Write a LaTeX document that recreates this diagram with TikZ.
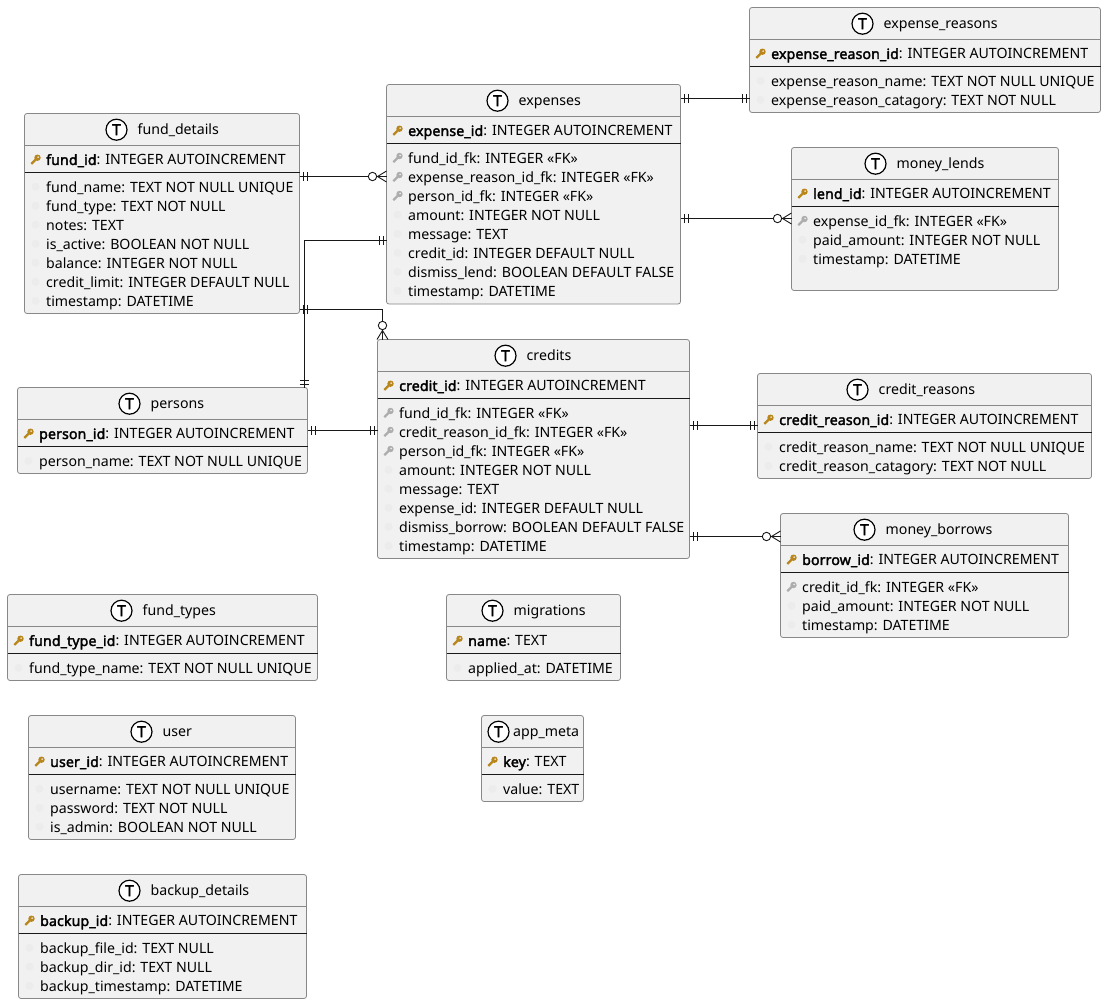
\documentclass[tikz,border=0pt]{standalone}
\usepackage{fontspec}
\setmainfont{Noto Sans}[BoldFont={Noto Sans},BoldFeatures={FakeBold=2.2,LetterSpace=0.8}]
\usetikzlibrary{calc,decorations.markings}
\definecolor{boxfill}{HTML}{F1F1F1}
\definecolor{boxline}{HTML}{888888}
\definecolor{linkline}{HTML}{181818}
\definecolor{pkcolor}{HTML}{B8861B}
\definecolor{fkcolor}{HTML}{ADADAD}
\definecolor{nocolor}{HTML}{ECECEC}

% #1 name, #2 left, #3 top, #4 width, #5 height, #6 offset of the T, #7 title, #8 key row, #9 rows
\newcommand{\tablebox}[9]{
  \node[table node,minimum width=#4,minimum height=#5] (#1) at (#2,#3) {};
  \draw[line width=0.8pt,boxline] ($(#1.north west)+(0,32)$) -- ($(#1.north east)+(0,32)$);
  \draw[line width=0.9pt,linkline] ($(#1.north west)+(0,59)$) -- ($(#1.north east)+(0,59)$);
  \node[t node] (#1 t) at ($(#1.north west)+(#6,16.2)$) {T};
  \node[row node] (#1 title) at ($(#1 t.center)+(21,0.8)$) {#7};
  \pic at ($(#1.north west)+(11,46)$) {pk};
  \node[row node] (#1 key) at ($(#1.north west)+(21.5,47.7)$) {#8};
  \foreach \kind/\txt [count=\i from 0] in {#9} {
    \pic at ($(#1.north west)+(11,73.3+19*\i)$) {\kind};
    \node[row node] (#1 row\i) at ($(#1.north west)+(21.5,75.2+19*\i)$) {\txt};
  }
}

\begin{document}
\begin{tikzpicture}[x=1pt,y=-1pt,
table node/.style={rectangle,draw=boxline,fill=boxfill,line width=0.8pt,rounded corners=2.5pt,anchor=north west,inner sep=0pt,outer sep=0pt},
row node/.style={anchor=west,inner sep=0pt,font=\fontsize{14.15}{16}\selectfont,text height=10.5pt,text depth=3pt,text=black},
t node/.style={circle,draw=black,fill=white,line width=1.2pt,minimum size=21pt,inner sep=0pt,font=\fontsize{15.5}{15}\selectfont\bfseries},
pk/.pic={
  \fill[pkcolor] (2,-1.8) circle (3.2pt);
  \draw[pkcolor,line width=2.2pt] (1,-0.8) -- (-4.2,4.4);
  \fill[boxfill] (2.6,-2.4) circle (0.9pt);
},
fk/.pic={
  \fill[fkcolor] (2,-1.8) circle (3.2pt);
  \draw[fkcolor,line width=2.2pt] (1,-0.8) -- (-4.2,4.4);
  \fill[boxfill] (2.6,-2.4) circle (0.9pt);
},
no/.pic={\fill[nocolor] (0,0) circle (4pt);},
link/.style={draw=linkline,line width=0.9pt},
one one/.style={postaction={decorate,decoration={markings,
  mark=at position 3.5pt with {\draw[linkline,line width=0.9pt] (0,-4.5) -- (0,4.5);},
  mark=at position 7.5pt with {\draw[linkline,line width=0.9pt] (0,-4.5) -- (0,4.5);}}}},
one end/.style={postaction={decorate,decoration={markings,
  mark=at position -7.5pt with {\draw[linkline,line width=0.9pt] (0,-4.5) -- (0,4.5);},
  mark=at position -3.5pt with {\draw[linkline,line width=0.9pt] (0,-4.5) -- (0,4.5);}}}},
many end/.style={postaction={decorate,decoration={markings,
  mark=at position 1 with {
    \draw[linkline,line width=0.9pt] (0,-5.5) -- (-9,0) -- (0,5.5);
    \draw[linkline,line width=0.9pt,fill=white] (-14,0) circle (4.2pt);}}}}]
\useasboundingbox (0,0) rectangle (1106,1004);
% tables
\tablebox{expense_reasons}{749.5}{7.5}{351}{105}{113}{expense\_reasons}{\textbf{expense\_reason\_id}: INTEGER AUTOINCREMENT}
  {no/expense\_reason\_name: TEXT NOT NULL UNIQUE,no/expense\_reason\_catagory: TEXT NOT NULL}
\tablebox{expenses}{386.5}{84.5}{294}{219.5}{111}{expenses}{\textbf{expense\_id}: INTEGER AUTOINCREMENT}
  {fk/fund\_id\_fk: INTEGER «FK»,fk/expense\_reason\_id\_fk: INTEGER «FK»,fk/person\_id\_fk: INTEGER «FK»,no/amount: INTEGER NOT NULL,no/message: TEXT,no/credit\_id: INTEGER DEFAULT NULL,no/dismiss\_lend: BOOLEAN DEFAULT FALSE,no/timestamp: DATETIME}
\tablebox{money_lends}{791.5}{147.5}{267}{143}{84}{money\_lends}{\textbf{lend\_id}: INTEGER AUTOINCREMENT}
  {fk/expense\_id\_fk: INTEGER «FK»,no/paid\_amount: INTEGER NOT NULL,no/timestamp: DATETIME}
\tablebox{fund_details}{24.5}{113.5}{275}{200}{92}{fund\_details}{\textbf{fund\_id}: INTEGER AUTOINCREMENT}
  {no/fund\_name: TEXT NOT NULL UNIQUE,no/fund\_type: TEXT NOT NULL,no/notes: TEXT,no/is\_active: BOOLEAN NOT NULL,no/balance: INTEGER NOT NULL,no/credit\_limit: INTEGER DEFAULT NULL,no/timestamp: DATETIME}
\tablebox{credits}{377.5}{339.5}{312}{219}{128}{credits}{\textbf{credit\_id}: INTEGER AUTOINCREMENT}
  {fk/fund\_id\_fk: INTEGER «FK»,fk/credit\_reason\_id\_fk: INTEGER «FK»,fk/person\_id\_fk: INTEGER «FK»,no/amount: INTEGER NOT NULL,no/message: TEXT,no/expense\_id: INTEGER DEFAULT NULL,no/dismiss\_borrow: BOOLEAN DEFAULT FALSE,no/timestamp: DATETIME}
\tablebox{persons}{17.5}{387.5}{290}{86}{112}{persons}{\textbf{person\_id}: INTEGER AUTOINCREMENT}
  {no/person\_name: TEXT NOT NULL UNIQUE}
\tablebox{credit_reasons}{757.5}{373.5}{334}{105}{100}{credit\_reasons}{\textbf{credit\_reason\_id}: INTEGER AUTOINCREMENT}
  {no/credit\_reason\_name: TEXT NOT NULL UNIQUE,no/credit\_reason\_catagory: TEXT NOT NULL}
\tablebox{money_borrows}{780.5}{513.5}{288}{124}{84}{money\_borrows}{\textbf{borrow\_id}: INTEGER AUTOINCREMENT}
  {fk/credit\_id\_fk: INTEGER «FK»,no/paid\_amount: INTEGER NOT NULL,no/timestamp: DATETIME}
\tablebox{fund_types}{7.5}{594.5}{310}{86}{114}{fund\_types}{\textbf{fund\_type\_id}: INTEGER AUTOINCREMENT}
  {no/fund\_type\_name: TEXT NOT NULL UNIQUE}
\tablebox{migrations}{446.5}{594.5}{174}{86}{46}{migrations}{\textbf{name}: TEXT}
  {no/applied\_at: DATETIME}
\tablebox{user}{28.5}{715.5}{267}{124}{113}{user}{\textbf{user\_id}: INTEGER AUTOINCREMENT}
  {no/username: TEXT NOT NULL UNIQUE,no/password: TEXT NOT NULL,no/is\_admin: BOOLEAN NOT NULL}
\tablebox{app_meta}{481.5}{715.5}{102}{86}{17}{\hspace*{-6.5pt}app\_meta}{\textbf{key}: TEXT}
  {no/value: TEXT}
\tablebox{backup_details}{18.5}{874.5}{288}{124}{111}{backup\_details}{\textbf{backup\_id}: INTEGER AUTOINCREMENT}
  {no/backup\_file\_id: TEXT NULL,no/backup\_dir\_id: TEXT NULL,no/backup\_timestamp: DATETIME}
% links
\path[link,one one,many end] ($(fund_details.north east)+(0,63)$) -- ($(expenses.north west)+(0,92)$);
\path[link,one one,one end] ($(persons.north east)+(-3.5,0)$) |- ($(expenses.north west)+(0,156)$);
\path[link,one one,many end] ($(fund_details.north east)+(0,196)$) -| ($(credits.north west)+(5,0)$);
\path[link,one one,one end] ($(persons.north east)+(0,43)$) -- ($(credits.north west)+(0,91)$);
\path[link,one one,one end] ($(expenses.north east)+(0,14)$) -- ($(expense_reasons.north west)+(0,91)$);
\path[link,one one,many end] ($(expenses.north east)+(0,134)$) -- ($(money_lends.north west)+(0,71)$);
\path[link,one one,one end] ($(credits.north east)+(0,86)$) -- ($(credit_reasons.north west)+(0,52)$);
\path[link,one one,many end] ($(credits.north east)+(0,197)$) -- ($(money_borrows.north west)+(0,23)$);
\end{tikzpicture}
\end{document}
